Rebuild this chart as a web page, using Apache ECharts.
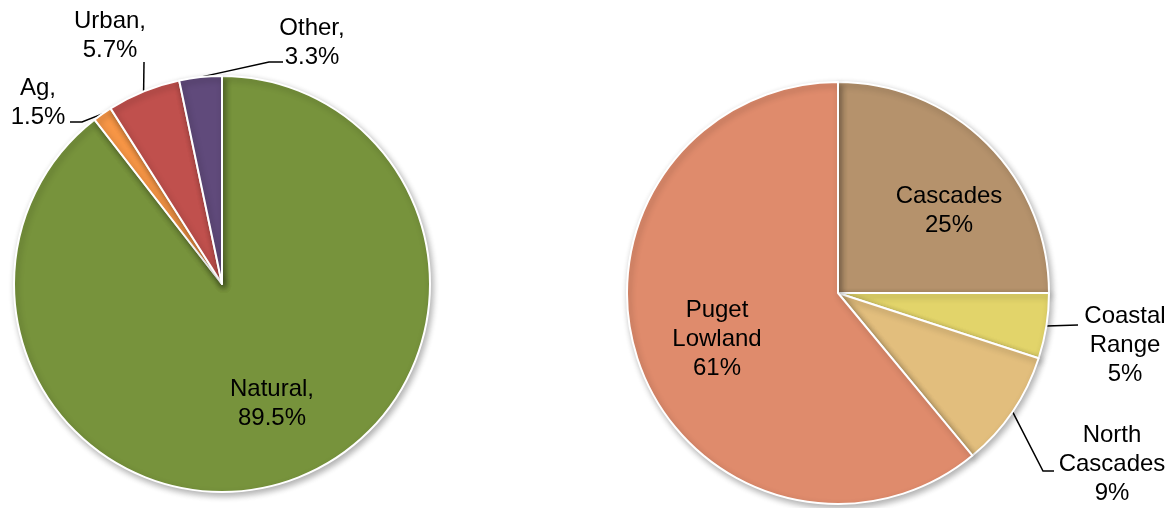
<!DOCTYPE html>
<html>
<head>
<meta charset="utf-8">
<script src="https://cdn.jsdelivr.net/npm/echarts@6/dist/echarts.min.js"></script>
<style>
  html, body { margin: 0; padding: 0; background: #ffffff; }
  #chart { width: 1169px; height: 508px; }
</style>
</head>
<body>
<div id="chart"></div>
<script>
// Land cover shares (percent), clockwise from 12 o'clock
const landNames = ['Natural', 'Ag', 'Urban', 'Other'];
const landValues = [89.5, 1.5, 5.7, 3.3];
const landColors = ['#77933C', '#F79646', '#C0504D', '#604A7B'];

// Ecoregion shares (percent), clockwise from 12 o'clock
const regionNames = ['Cascades', 'Coastal Range', 'North Cascades', 'Puget Lowland'];
const regionValues = [25, 5, 9, 61];
const regionColors = ['#B5926C', '#E2D46A', '#E2BE7D', '#DF8B6C'];

// Pie geometry and label placement (pixels)
const landPie = { center: [222, 284], radius: 208 };
const regionPie = { center: [838, 293], radius: 211 };

// label block centre + leader-line bend points (null = label inside slice)
const landLabelPos = [
  { at: [272, 404], bends: null },
  { at: [38, 103], bends: [[82, 122], [70, 122]] },
  { at: [110, 36], bends: [[144, 62]] },
  { at: [312, 43], bends: [[269, 62], [283, 62]] }
];
const regionLabelPos = [
  { at: [949, 211], bends: null },
  { at: [1125, 345], bends: [[1078, 325]] },
  { at: [1112, 464], bends: [[1043, 471], [1054, 471]] },
  { at: [717, 339], bends: null }
];

// point on the outer arc at the middle of slice idx
function arcMid(values, idx, pie) {
  const total = values.reduce((a, b) => a + b, 0);
  let before = 0;
  for (let i = 0; i < idx; i++) before += values[i];
  const frac = (before + values[idx] / 2) / total;
  const ang = frac * Math.PI * 2; // clockwise from top
  return [pie.center[0] + pie.radius * Math.sin(ang),
          pie.center[1] - pie.radius * Math.cos(ang)];
}

function makeLayout(values, pie, positions) {
  return function (params) {
    const p = positions[params.dataIndex];
    const out = { x: p.at[0], y: p.at[1], align: 'center', verticalAlign: 'middle' };
    if (p.bends) {
      out.labelLinePoints = [arcMid(values, params.dataIndex, pie)].concat(p.bends);
    }
    return out;
  };
}

const textStyle = {
  color: '#000000',
  fontFamily: 'Liberation Sans, Arial, sans-serif',
  fontSize: 24,
  lineHeight: 29,
  align: 'center'
};

const sliceStyle = {
  borderColor: '#ffffff',
  borderWidth: 2,
  shadowBlur: 6,
  shadowOffsetX: 2,
  shadowOffsetY: 3,
  shadowColor: 'rgba(0,0,0,0.3)'
};

function buildData(names, values, colors, positions, fmt) {
  return names.map((n, i) => ({
    name: n,
    value: values[i],
    itemStyle: { color: colors[i] },
    label: Object.assign({ show: true, position: positions[i].bends ? 'outside' : 'inside',
                           formatter: fmt(n, values[i]) }, textStyle),
    labelLine: { show: !!positions[i].bends, lineStyle: { color: '#000000', width: 1.5 } }
  }));
}

const chart = echarts.init(document.getElementById('chart'), null, { renderer: 'canvas' });
chart.setOption({
  animation: false,
  backgroundColor: '#ffffff',
  series: [
    {
      type: 'pie',
      center: landPie.center,
      radius: landPie.radius,
      startAngle: 90,
      clockwise: true,
      avoidLabelOverlap: false,
      emphasis: { disabled: true },
      itemStyle: sliceStyle,
      labelLayout: makeLayout(landValues, landPie, landLabelPos),
      data: buildData(landNames, landValues, landColors, landLabelPos,
                      (n, v) => n + ',\n' + v + '%')
    },
    {
      type: 'pie',
      center: regionPie.center,
      radius: regionPie.radius,
      startAngle: 90,
      clockwise: true,
      avoidLabelOverlap: false,
      emphasis: { disabled: true },
      itemStyle: sliceStyle,
      labelLayout: makeLayout(regionValues, regionPie, regionLabelPos),
      data: buildData(regionNames, regionValues, regionColors, regionLabelPos,
                      (n, v) => n.replace(' ', '\n') + '\n' + v + '%')
    }
  ]
});
</script>
</body>
</html>
